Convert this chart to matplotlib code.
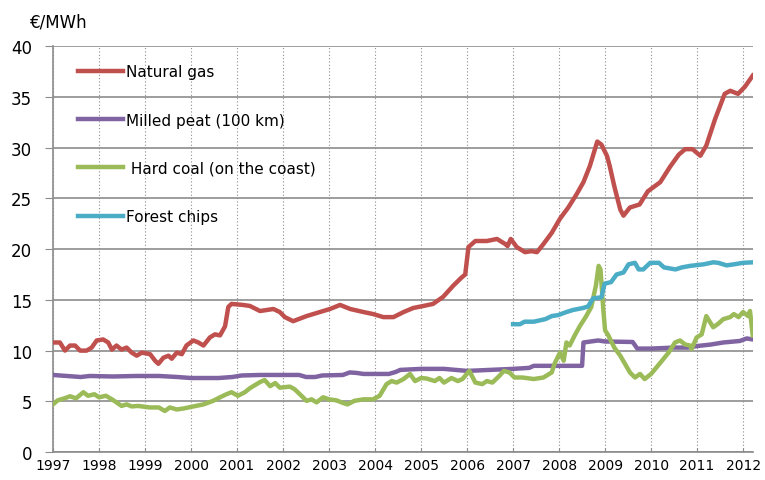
"""Fuel prices for heat production, 1997-2012."""

from matplotlib import pyplot as plt
import numpy as np

# (year, EUR/MWh)
natural_gas = [
    (1997.0, 10.8), (1997.15, 10.8), (1997.26, 10.0), (1997.37, 10.5), (1997.48, 10.5),
    (1997.59, 10.0), (1997.73, 10.0), (1997.84, 10.3), (1997.95, 11.0), (1998.09, 11.1),
    (1998.2, 10.8), (1998.28, 10.1), (1998.38, 10.5), (1998.49, 10.1), (1998.6, 10.3),
    (1998.71, 9.8), (1998.82, 9.5), (1998.93, 9.8), (1999.11, 9.65), (1999.22, 9.0),
    (1999.29, 8.7), (1999.4, 9.3), (1999.51, 9.5), (1999.58, 9.2), (1999.69, 9.8),
    (1999.8, 9.65), (1999.9, 10.5), (2000.05, 11.0), (2000.16, 10.8), (2000.27, 10.5),
    (2000.41, 11.3), (2000.52, 11.6), (2000.63, 11.5), (2000.74, 12.4), (2000.81, 14.3),
    (2000.88, 14.6), (2001.13, 14.5), (2001.28, 14.4), (2001.5, 13.9), (2001.79, 14.1),
    (2001.93, 13.8), (2002.04, 13.3), (2002.22, 12.9), (2002.51, 13.4), (2002.8, 13.8),
    (2003.02, 14.1), (2003.24, 14.5), (2003.46, 14.1), (2003.75, 13.8), (2003.96, 13.6),
    (2004.18, 13.3), (2004.4, 13.3), (2004.62, 13.8), (2004.83, 14.2), (2005.05, 14.4),
    (2005.26, 14.6), (2005.48, 15.3), (2005.7, 16.4), (2005.88, 17.2), (2005.96, 17.5),
    (2006.03, 20.2), (2006.18, 20.8), (2006.43, 20.8), (2006.65, 21.0), (2006.83, 20.5),
    (2006.88, 20.3), (2006.95, 21.0), (2007.08, 20.2), (2007.26, 19.7), (2007.4, 19.8),
    (2007.52, 19.7), (2007.66, 20.5), (2007.84, 21.6), (2008.02, 23.0), (2008.2, 24.1),
    (2008.38, 25.4), (2008.53, 26.6), (2008.67, 28.2), (2008.83, 30.6), (2008.92, 30.3),
    (2009.04, 29.2), (2009.1, 28.2), (2009.2, 26.2), (2009.33, 23.9), (2009.4, 23.3),
    (2009.54, 24.1), (2009.75, 24.4), (2009.93, 25.7), (2010.2, 26.6), (2010.41, 28.1),
    (2010.6, 29.3), (2010.74, 29.85), (2010.9, 29.85), (2011.07, 29.2), (2011.2, 30.2),
    (2011.39, 32.8), (2011.6, 35.3), (2011.72, 35.6), (2011.89, 35.3), (2012.04, 36.0),
    (2012.21, 37.1),
]

milled_peat = [
    (1997.0, 7.6), (1997.3, 7.5), (1997.6, 7.4), (1997.8, 7.5), (1998.3, 7.45),
    (1998.8, 7.5), (1999.3, 7.5), (1999.7, 7.4), (2000.0, 7.3), (2000.6, 7.3),
    (2000.9, 7.4), (2001.1, 7.55), (2001.5, 7.6), (2002.0, 7.6), (2002.35, 7.6),
    (2002.5, 7.4), (2002.7, 7.4), (2002.85, 7.55), (2003.3, 7.6), (2003.45, 7.85),
    (2003.6, 7.8), (2003.75, 7.7), (2004.3, 7.7), (2004.45, 7.9), (2004.55, 8.1),
    (2005.0, 8.2), (2005.5, 8.2), (2006.0, 8.0), (2006.5, 8.1), (2007.0, 8.2),
    (2007.35, 8.3), (2007.45, 8.5), (2008.5, 8.5), (2008.53, 10.8), (2008.85, 11.0),
    (2009.0, 10.9), (2009.6, 10.85), (2009.7, 10.2), (2010.0, 10.2), (2010.5, 10.3),
    (2010.8, 10.3), (2011.0, 10.45), (2011.3, 10.6), (2011.57, 10.8), (2011.93, 10.95),
    (2012.08, 11.2), (2012.21, 11.1),
]

hard_coal = [
    (1997.0, 4.7), (1997.1, 5.1), (1997.25, 5.3), (1997.37, 5.5), (1997.5, 5.3),
    (1997.66, 5.9), (1997.76, 5.55), (1997.9, 5.7), (1998.0, 5.4), (1998.15, 5.55),
    (1998.28, 5.2), (1998.38, 4.9), (1998.49, 4.55), (1998.6, 4.7), (1998.71, 4.5),
    (1998.85, 4.55), (1999.1, 4.4), (1999.3, 4.4), (1999.43, 4.05), (1999.54, 4.4),
    (1999.69, 4.2), (1999.84, 4.3), (2000.05, 4.5), (2000.27, 4.7), (2000.48, 5.05),
    (2000.63, 5.4), (2000.77, 5.7), (2000.88, 5.9), (2001.02, 5.55), (2001.17, 5.9),
    (2001.28, 6.3), (2001.5, 6.9), (2001.6, 7.1), (2001.72, 6.5), (2001.83, 6.8),
    (2001.93, 6.35), (2002.15, 6.45), (2002.25, 6.2), (2002.4, 5.55), (2002.51, 5.05),
    (2002.62, 5.2), (2002.73, 4.9), (2002.87, 5.4), (2003.0, 5.2), (2003.16, 5.1),
    (2003.3, 4.85), (2003.4, 4.7), (2003.55, 5.05), (2003.75, 5.2), (2003.96, 5.2),
    (2004.1, 5.55), (2004.25, 6.7), (2004.36, 7.0), (2004.47, 6.85), (2004.62, 7.2),
    (2004.76, 7.7), (2004.87, 7.0), (2005.0, 7.3), (2005.12, 7.25), (2005.3, 7.0),
    (2005.4, 7.3), (2005.5, 6.85), (2005.66, 7.3), (2005.8, 7.0), (2005.9, 7.2),
    (2006.05, 8.0), (2006.18, 6.85), (2006.33, 6.7), (2006.43, 7.0), (2006.55, 6.85),
    (2006.7, 7.5), (2006.8, 8.0), (2006.92, 7.85), (2007.03, 7.35), (2007.2, 7.35),
    (2007.45, 7.2), (2007.66, 7.35), (2007.84, 7.85), (2007.91, 8.8), (2008.02, 9.8),
    (2008.1, 9.0), (2008.16, 10.8), (2008.23, 10.5), (2008.34, 11.5), (2008.45, 12.4),
    (2008.59, 13.4), (2008.7, 14.3), (2008.8, 16.4), (2008.86, 18.35), (2008.9, 18.0),
    (2008.93, 16.1), (2008.96, 14.1), (2009.0, 12.0), (2009.07, 11.5), (2009.2, 10.3),
    (2009.33, 9.5), (2009.54, 7.85), (2009.65, 7.35), (2009.76, 7.7), (2009.86, 7.2),
    (2010.0, 7.7), (2010.2, 8.8), (2010.38, 9.8), (2010.52, 10.8), (2010.63, 11.0),
    (2010.74, 10.6), (2010.85, 10.5), (2010.88, 10.15), (2010.99, 11.3), (2011.1, 11.6),
    (2011.2, 13.4), (2011.35, 12.3), (2011.46, 12.65), (2011.57, 13.1), (2011.72, 13.3),
    (2011.8, 13.6), (2011.9, 13.3), (2012.0, 13.8), (2012.11, 13.4), (2012.15, 13.9),
    (2012.21, 11.5),
]

forest_chips = [
    (2007.0, 12.6), (2007.15, 12.6), (2007.25, 12.85), (2007.45, 12.85), (2007.55, 12.95),
    (2007.7, 13.1), (2007.84, 13.4), (2007.98, 13.5), (2008.16, 13.8), (2008.3, 14.0),
    (2008.52, 14.2), (2008.63, 14.35), (2008.74, 15.15), (2008.92, 15.25), (2008.99, 16.6),
    (2009.13, 16.75), (2009.25, 17.5), (2009.4, 17.7), (2009.51, 18.5), (2009.65, 18.65),
    (2009.73, 18.0), (2009.83, 18.0), (2009.98, 18.65), (2010.17, 18.65), (2010.28, 18.2),
    (2010.53, 18.0), (2010.67, 18.2), (2010.85, 18.35), (2011.14, 18.5), (2011.35, 18.7),
    (2011.46, 18.65), (2011.64, 18.4), (2011.8, 18.5), (2012.0, 18.65), (2012.21, 18.7),
]

labels = ["Natural gas", "Milled peat (100 km)", " Hard coal (on the coast)", "Forest chips"]
colors = ["#C0504D", "#8064A2", "#9BBB59", "#4BACC6"]
years = list(range(1997, 2013))
y_ticks = list(range(0, 45, 5))

fig, ax = plt.subplots(figsize=(7.65, 4.81), dpi=100)
fig.subplots_adjust(left=0.0693, right=0.984, bottom=0.058, top=0.902)

grid_color = "#8C8C8C"
for series, label, color in zip(
    [natural_gas, milled_peat, hard_coal, forest_chips], labels, colors
):
    xs, ys = np.array(series).T
    ax.plot(xs, ys, color=color, lw=3.2, label=label, solid_joinstyle="round", zorder=3)

ax.set_xlim(1997, 2012.21)
ax.set_ylim(0, 40)
ax.set_xticks(years)
ax.set_yticks(y_ticks)
ax.set_xticklabels([str(y) for y in years], fontsize=10)
ax.set_yticklabels([str(v) for v in y_ticks], fontsize=12)

# Horizontal solid grid, vertical dotted grid
ax.grid(axis="y", color=grid_color, lw=1.2, ls="-", zorder=1)
ax.grid(axis="x", color=grid_color, lw=0.8, ls=(0, (1, 2)), zorder=1)

for side in ["top", "right"]:
    ax.spines[side].set_visible(False)
for side in ["left", "bottom"]:
    ax.spines[side].set_color(grid_color)
    ax.spines[side].set_linewidth(1.2)

ax.tick_params(axis="y", direction="out", length=6, color=grid_color, pad=9)
ax.tick_params(axis="x", direction="in", length=3, color=grid_color, pad=4)

ax.text(-0.033, 1.06, "€/MWh", transform=ax.transAxes, fontsize=12, ha="left", va="center")

ax.legend(
    loc="upper left",
    bbox_to_anchor=(0.036, 0.955),
    frameon=False,
    fontsize=11,
    handlelength=2.9,
    handletextpad=0.25,
    labelspacing=2.17,
    borderaxespad=0,
    borderpad=0,
)

fig.savefig("out.png", dpi=100, facecolor="white")
